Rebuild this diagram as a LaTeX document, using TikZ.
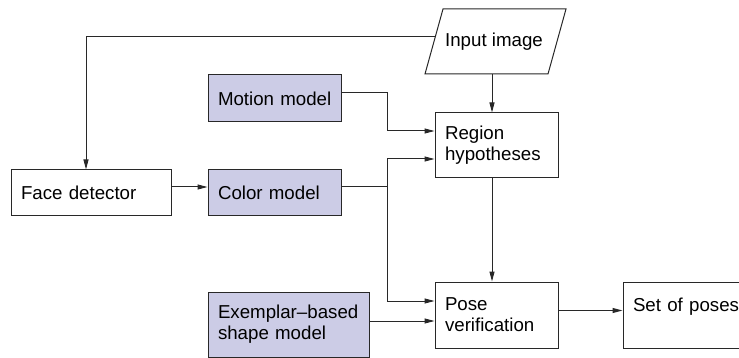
\documentclass[tikz,border=0pt]{standalone}
\usepackage{fontspec}
\setmainfont{Liberation Sans}
\usetikzlibrary{arrows.meta,calc}
\hyphenpenalty=10000 \exhyphenpenalty=10000
\definecolor{modelfill}{RGB}{204,204,230}
\definecolor{linecol}{RGB}{40,40,40}
\begin{document}
\begin{tikzpicture}[x=1pt,y=-1pt, font=\fontsize{18.7}{21}\selectfont,
  box/.style={draw=linecol, rectangle, line width=1pt, inner xsep=10pt, inner ysep=0pt, align=left},
  model/.style={box, fill=modelfill},
  arr/.style={draw=linecol, -{Triangle[length=10pt,width=5pt]}, line width=1pt}]
\useasboundingbox (0,0) rectangle (739,358);
% boxes
\node[box, text width=140pt, minimum height=46pt] (face) at (91,193) {\mbox{Face detector}};
\node[model, text width=113pt, minimum height=47pt] (motion) at (274.5,98.5) {\mbox{Motion model}};
\node[model, text width=113pt, minimum height=46pt] (color) at (274.5,193) {\mbox{Color model}};
\node[model, text width=141pt, minimum height=65pt] (exemplar) at (288.5,324.5) {\mbox{Exemplar–based}\\\mbox{shape model}};
\node[box, text width=103pt, minimum height=65pt] (region) at (496.5,145.5) {Region\\hypotheses};
\node[box, text width=103pt, minimum height=66pt] (pose) at (496.5,315) {Pose\\verification};
\node[box, text width=110pt, minimum height=66pt] (set) at (688,315) {\mbox{Set of poses}\\\mbox{}};
% input image (parallelogram)
\coordinate (inTL) at (443,9);
\coordinate (inTR) at (566,9);
\coordinate (inBR) at (548,74);
\coordinate (inBL) at (425,74);
\draw[draw=linecol, line width=1pt] (inTL) -- (inTR) -- (inBR) -- (inBL) -- cycle;
\node[inner sep=0pt] (input) at (494,41.5) {Input image};
% helper coordinates
\coordinate (inL) at ($(inTL)!0.43!(inBL)$);
\coordinate (jx) at (387,0);
\coordinate (rt) at ([xshift=-4.5pt]region.north);
\coordinate (R1) at ([yshift=14.5pt]region.west);
\coordinate (R2) at ([yshift=-13.5pt]region.west);
\coordinate (P1) at ([yshift=14pt]pose.west);
\coordinate (M) at ([yshift=5.5pt]motion.east);
\coordinate (C) at ([yshift=6pt]color.east);
\coordinate (E) at ([yshift=3.5pt]exemplar.east);
\coordinate (F) at ([yshift=6pt]face.east);
\coordinate (PS) at ([yshift=4.5pt]pose.east);
% connectors
\draw[arr] (inL) -| ([xshift=-5pt]face.north);
\draw[arr] (rt |- inBL) -- (rt);
\draw[arr] (M) -| (jx |- R1) -- (R1);
\draw[arr] (C) -| (jx |- R2) -- (R2);
\draw[arr] (jx |- C) |- (P1);
\draw[arr] (E) -- (E -| pose.west);
\draw[arr] ([xshift=-4.5pt]region.south) -- ([xshift=-4.5pt]pose.north);
\draw[arr] (PS) -- (PS -| set.west);
\draw[arr] (F) -- (F -| color.west);
\end{tikzpicture}
\end{document}
